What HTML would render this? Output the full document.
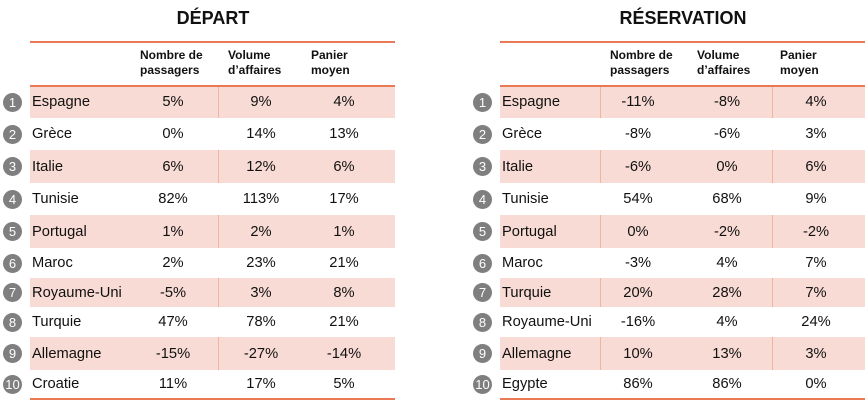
<!DOCTYPE html>
<html><head><meta charset="utf-8"><style>
body{margin:0;width:866px;height:412px;background:#fff;font-family:"Liberation Sans",sans-serif;position:relative;overflow:hidden;color:#111}
.t{position:absolute;font-weight:bold;font-size:18px;top:8px;text-align:center;width:200px}
.line{position:absolute;height:2px;background:#ea7a55}
.row{position:absolute}
.pink{background:#f8dbd4}
.sep{position:absolute;width:1px;background:#f0b4a2}
.circ{position:absolute;width:19px;height:19px;border-radius:50%;background:#7f7f7f;color:#fff;font-size:13px;text-align:center;line-height:19px}
.cell{position:absolute;font-size:14.7px}
.hd{position:absolute;font-size:12px;font-weight:bold;line-height:15px;top:48px}
</style></head><body>
<div class="t" style="left:113px">DÉPART</div>
<div class="t" style="left:583px">RÉSERVATION</div>
<div id="tables"></div>
<script>
const namesDep=["Espagne","Grèce","Italie","Tunisie","Portugal","Maroc","Royaume-Uni","Turquie","Allemagne","Croatie"];
const passDep=["5%","0%","6%","82%","1%","2%","-5%","47%","-15%","11%"];
const volDep=["9%","14%","12%","113%","2%","23%","3%","78%","-27%","17%"];
const panDep=["4%","13%","6%","17%","1%","21%","8%","21%","-14%","5%"];
const namesRes=["Espagne","Grèce","Italie","Tunisie","Portugal","Maroc","Turquie","Royaume-Uni","Allemagne","Egypte"];
const passRes=["-11%","-8%","-6%","54%","0%","-3%","20%","-16%","10%","86%"];
const volRes=["-8%","-6%","0%","68%","-2%","4%","28%","4%","13%","86%"];
const panRes=["4%","3%","6%","9%","-2%","7%","7%","24%","3%","0%"];
const root=document.getElementById('tables');
const tops=[86,118,150,183,215,248,278,307,337,370,398];
function mk(cls,style,txt){const d=document.createElement('div');d.className=cls;d.setAttribute('style',style);if(txt!==undefined)d.textContent=txt;root.appendChild(d);return d;}
function table(key,x0,names,a,b,c,centers,heads,seps){
  let l=mk('line',`left:${x0}px;width:365px;top:41px`);
  
  
  l=mk('line',`left:${x0}px;width:365px;top:85px`);
  
  
  l=mk('line',`left:${x0}px;width:365px;top:398px`);
  
  
  const hs=["Nombre de<br>passagers","Volume<br>d’affaires","Panier<br>moyen"];
  hs.forEach((h,i)=>{const d=mk('hd',`left:${heads[i]}px`);d.innerHTML=h;
    
    });
  names.forEach((n,i)=>{
    const y=tops[i]+(i==0?1:0), h=tops[i+1]-y, yc=(tops[i]+tops[i+1])/2;
    const r=mk('row'+(i%2==0?' pink':''),`left:${x0}px;width:365px;top:${y}px;height:${h}px`);
    
    
    if(i%2==0) seps.forEach(s=>{const sp=mk('sep',`left:${s}px;top:${y}px;height:${h}px`);
      
      });
    const ci=mk('circ',`left:${x0-27}px;top:${yc-9.5}px`,String(i+1));
    
    
    const nm=mk('cell',`left:${x0+2}px;top:${yc-10}px;line-height:20px`,n);
    
    
    [a,b,c].forEach((arr,k)=>{const v=mk('cell',`left:${centers[k]-40}px;width:80px;text-align:center;top:${yc-10}px;line-height:20px`,arr[i]);
      
      });
  });
}
table('depart',30,namesDep,passDep,volDep,panDep,[173,261,344],[140,228,311],[218]);
table('reservation',500,namesRes,passRes,volRes,panRes,[638,727,816],[610,697,780],[600,772]);
</script>
</body></html>
